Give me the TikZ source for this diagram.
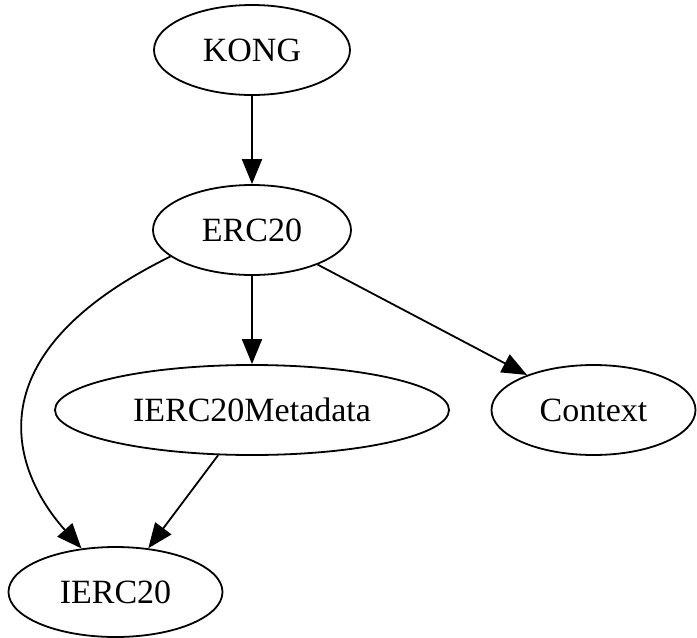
\documentclass[tikz,border=0pt]{standalone}
\usepackage{fontspec}
\setmainfont{Liberation Serif}
\usetikzlibrary{shapes.geometric,arrows.meta}
\tikzset{
  gnode/.style={draw, ellipse, line width=1.8pt, inner sep=0pt,
    minimum height=90pt, font=\fontsize{34}{40}\selectfont},
  gedge/.style={draw, line width=1.8pt, -{Triangle[length=25pt,width=20pt]}}
}
\begin{document}
\begin{tikzpicture}[x=1pt,y=-1pt]
\useasboundingbox (0,0) rectangle (697,638);
\node[gnode, minimum width=196pt] (kong) at (252,50) {KONG};
\node[gnode, minimum width=198pt] (erc) at (252,230) {ERC20};
\node[gnode, minimum width=394pt] (meta) at (252,410) {IERC20Metadata};
\node[gnode, minimum width=204pt] (ctx) at (593.5,410) {Context};
\node[gnode, minimum width=214pt] (ierc) at (115.5,592) {IERC20};
\draw[gedge] (kong) -- (erc);
\draw[gedge] (erc) -- (meta);
\draw[gedge] (erc) -- (ctx);
\draw[gedge] (meta) -- (ierc);
\draw[gedge] (erc.198) .. controls (-40,360) and (20,480) .. (ierc.128);
\end{tikzpicture}
\end{document}
